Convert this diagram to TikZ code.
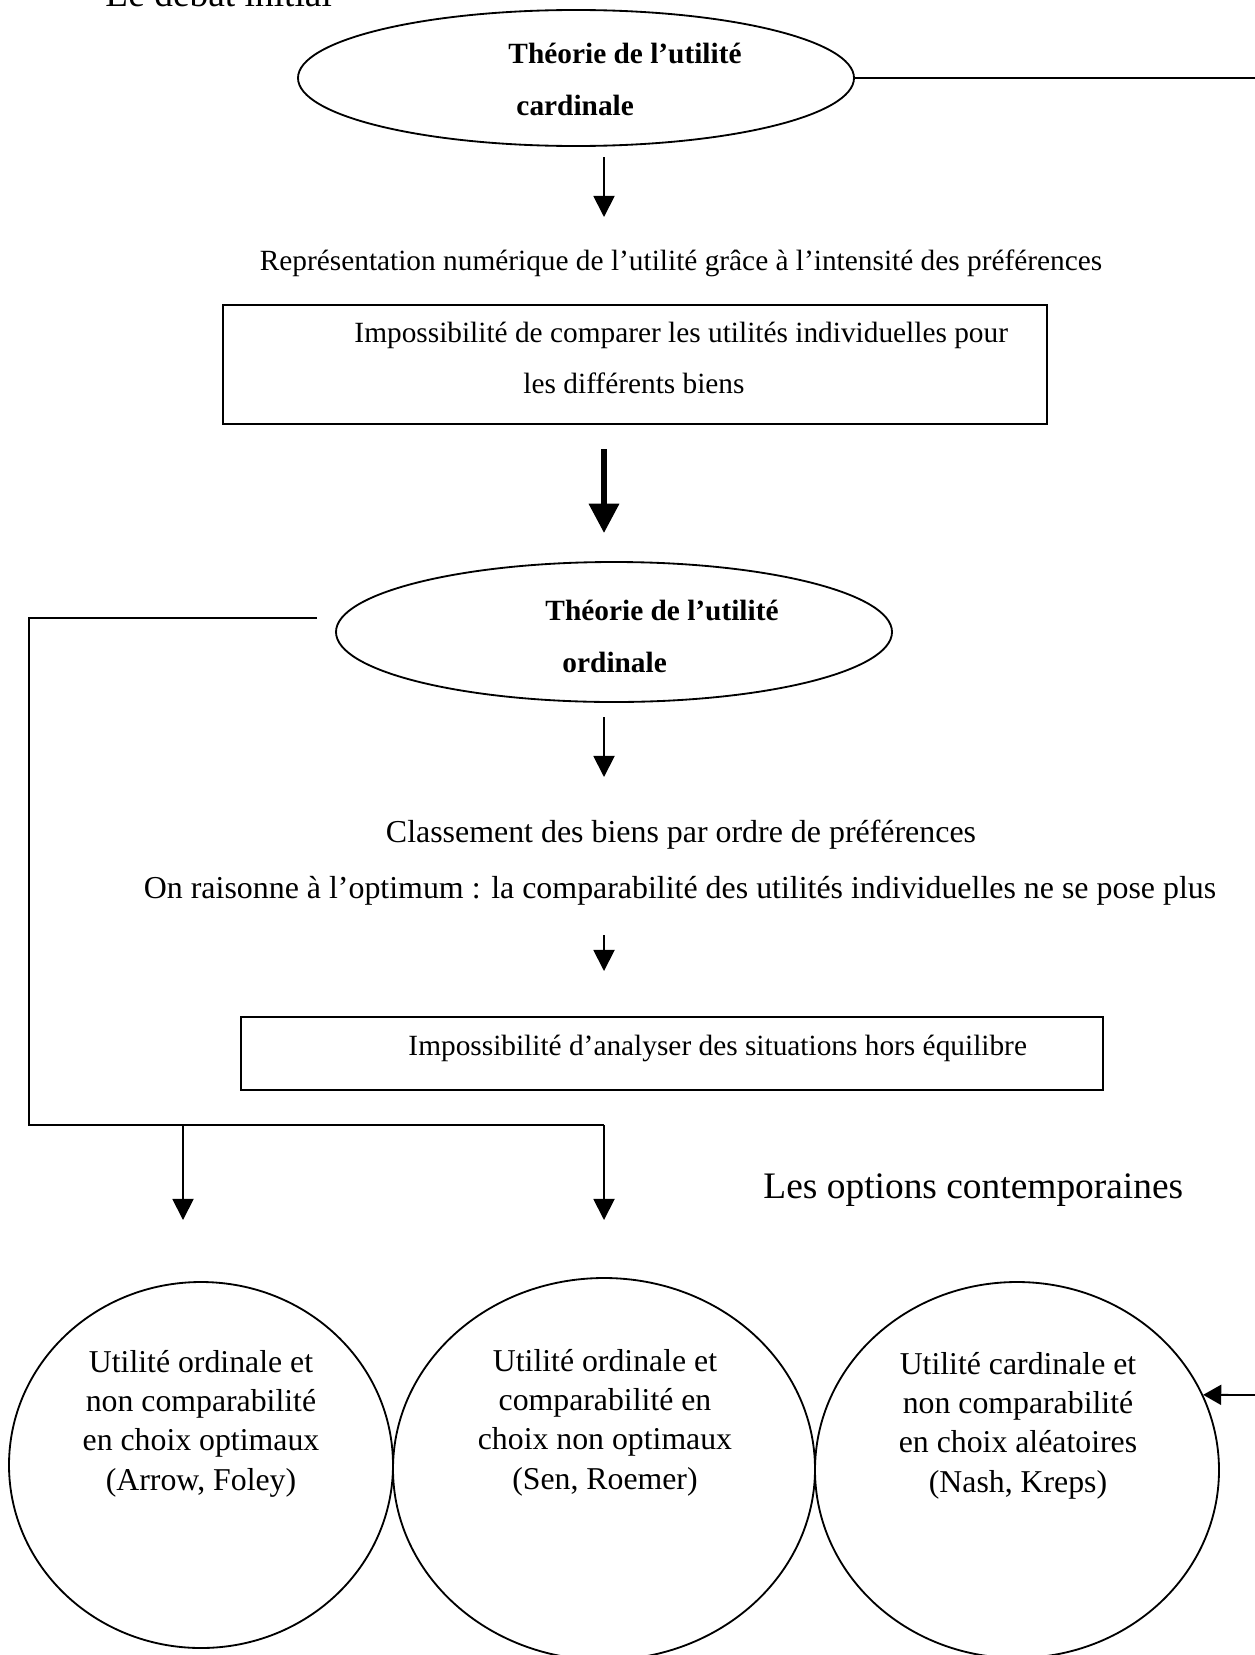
\documentclass[tikz,border=0pt]{standalone}
\usepackage{fontspec}
\setmainfont{Liberation Serif}
\usetikzlibrary{arrows.meta,shapes.geometric}
\newcommand{\pxu}{0.409pt}
\begin{document}
\begin{tikzpicture}[x=\pxu, y=-\pxu,
  shapeline/.style={draw, line width=0.75pt, inner sep=0pt},
  oval/.style={shapeline, ellipse},
  conn/.style={line width=0.75pt},
  arr/.style={conn, -{Triangle[length=8.6pt, width=8.6pt]}},
  thickarr/.style={line width=2.3pt, -{Triangle[length=12pt, width=12pt]}},
  txt/.style={inner sep=0pt, anchor=base west, font=\fontsize{12}{14}\selectfont},
  ctxt/.style={inner sep=0pt, anchor=base, font=\fontsize{12}{14}\selectfont},
  bigctxt/.style={inner sep=0pt, anchor=base, font=\fontsize{13.05}{15}\selectfont},
  btxt/.style={inner sep=0pt, anchor=base west, font=\fontsize{12}{14}\selectfont\bfseries},
  htxt/.style={inner sep=0pt, anchor=base west, font=\fontsize{15.3}{18}\selectfont},
  circtxt/.style={inner sep=0pt, align=center, anchor=base, font=\fontsize{13}{16}\selectfont}
]
\useasboundingbox (0,0) rectangle (1255,1655);

% heading
\node[htxt] (h1) at (105,6) {Le débat initial};

% ellipse 1
\node[oval, minimum width=556*\pxu, minimum height=136*\pxu] (e1) at (576,78) {};
\node[btxt] (e1a) at (508,63) {Théorie de l’utilité};
\node[btxt] (e1b) at (516,115) {cardinale};
\coordinate (rout) at (1255,78);
\draw[conn] (e1.east) -- (rout);

\coordinate (a1s) at (604,157);
\coordinate (a1e) at (604,217);
\draw[arr] (a1s) -- (a1e);

\node[ctxt] (t1) at (681,270) {Représentation numérique de l’utilité grâce à l’intensité des préférences};

% rectangle 1
\node[shapeline, rectangle, minimum width=824*\pxu, minimum height=119*\pxu] (r1) at (635,364.5) {};
\node[txt] (r1a) at (354,342) {Impossibilité de comparer les utilités individuelles pour};
\node[txt] (r1b) at (523,393) {les différents biens};

\coordinate (a2s) at (604,449);
\coordinate (a2e) at (604,533);
\draw[thickarr] (a2s) -- (a2e);

% ellipse 2
\node[oval, minimum width=556*\pxu, minimum height=140*\pxu] (e2) at (614,632) {};
\node[btxt] (e2a) at (545,620) {Théorie de l’utilité};
\node[btxt] (e2b) at (562,672) {ordinale};

\coordinate (a3s) at (604,717);
\coordinate (a3e) at (604,777);
\draw[arr] (a3s) -- (a3e);

\node[bigctxt] (t2) at (681,842) {Classement des biens par ordre de préférences};
\node[bigctxt] (t3) at (680,898) {On raisonne à l’optimum : la comparabilité des utilités individuelles ne se pose plus};

\coordinate (a4s) at (604,935);
\coordinate (a4e) at (604,971);
\draw[arr] (a4s) -- (a4e);

% rectangle 2
\node[shapeline, rectangle, minimum width=862*\pxu, minimum height=73*\pxu] (r2) at (672,1053.5) {};
\node[txt] (r2a) at (408,1055) {Impossibilité d’analyser des situations hors équilibre};

% left connector
\coordinate (ls) at (317,618);
\coordinate (lc1) at (29,618);
\coordinate (lc2) at (29,1125);
\coordinate (lc3) at (604,1125);
\draw[conn] (ls) -- (lc1) -- (lc2) -- (lc3);
\coordinate (b1s) at (183,1125);
\coordinate (b1e) at (183,1220);
\draw[arr] (b1s) -- (b1e);
\coordinate (b2e) at (604,1220);
\draw[arr] (lc3) -- (b2e);

\node[htxt] (h2) at (763,1198) {Les options contemporaines};

% circles
\node[oval, minimum width=384*\pxu, minimum height=366*\pxu] (c1) at (201,1465) {};
\node[oval, minimum width=422*\pxu, minimum height=382*\pxu] (c2) at (604,1469) {};
\node[oval, minimum width=404*\pxu, minimum height=376*\pxu] (c3) at (1017,1470) {};

\node[circtxt] (c1t) at (201,1490) {Utilité ordinale et\\non comparabilité\\en choix optimaux\\(Arrow, Foley)};
\node[circtxt] (c2t) at (605,1489) {Utilité ordinale et\\comparabilité en\\choix non optimaux\\(Sen, Roemer)};
\node[circtxt] (c3t) at (1018,1492) {Utilité cardinale et\\non comparabilité\\en choix aléatoires\\(Nash, Kreps)};

\coordinate (rin) at (1255,1395);
\draw[conn, -{Triangle[length=7.4pt, width=8.2pt]}] (rin) -- (c3.22);
\end{tikzpicture}
\end{document}
